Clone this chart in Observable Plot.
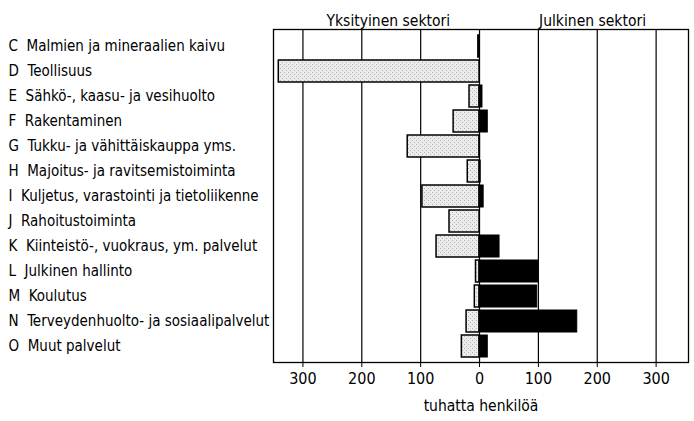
<!DOCTYPE html>
<html>
<head>
<meta charset="utf-8">
<script src="https://cdn.jsdelivr.net/npm/d3@7"></script>
<script src="https://cdn.jsdelivr.net/npm/@observablehq/plot@0.6"></script>
<style>
  html, body { margin: 0; padding: 0; background: #fff; }
  svg { display: block; }
</style>
</head>
<body>
<div id="chart"></div>
<script>
const categories = [
  "C\u00a0 Malmien ja mineraalien kaivu",
  "D\u00a0 Teollisuus",
  "E\u00a0 Sähkö-, kaasu- ja vesihuolto",
  "F\u00a0 Rakentaminen",
  "G\u00a0 Tukku- ja vähittäiskauppa yms.",
  "H\u00a0 Majoitus- ja ravitsemistoiminta",
  "I\u00a0 Kuljetus, varastointi ja tietoliikenne",
  "J\u00a0 Rahoitustoiminta",
  "K\u00a0 Kiinteistö-, vuokraus, ym. palvelut",
  "L\u00a0 Julkinen hallinto",
  "M\u00a0 Koulutus",
  "N\u00a0 Terveydenhuolto- ja sosiaalipalvelut",
  "O\u00a0 Muut palvelut"
];
const yksityinen = [2, 341, 17, 44, 122, 20, 97, 51, 73, 6, 8, 22, 30];
const julkinen   = [0, 0, 5, 14, 1, 2, 7, 0, 34, 100, 98, 166, 14];
const tickValues = [-300, -200, -100, 0, 100, 200, 300];
const headers = ["Yksityinen sektori", "Julkinen sektori"];
const headerX = [-155, 192];
const axisTitle = "tuhatta henkilöä";

const privateRows = categories.map((c, i) => ({cat: c, x1: -yksityinen[i], x2: 0}));
const publicRows = categories.map((c, i) => ({cat: c, x1: 0, x2: julkinen[i]}));
const headerRows = headers.map((h, i) => ({text: h, x: headerX[i]}));

const font = "'Liberation Sans Narrow', 'DejaVu Sans Condensed', 'Roboto', sans-serif";

const chart = Plot.plot({
  width: 694,
  height: 421,
  marginLeft: 273,
  marginRight: 6,
  marginTop: 29,
  marginBottom: 59,
  style: {fontFamily: font, fontSize: "15px", color: "#000", background: "#fff"},
  x: {domain: [-350, 355], ticks: tickValues, tickFormat: d => Math.abs(d)},
  y: {domain: categories, padding: 0.14, axis: null},
  marks: [
    Plot.ruleX(tickValues, {stroke: "#000", strokeWidth: 1.2}),
    Plot.barX(privateRows, {y: "cat", x1: "x1", x2: "x2", fill: "url(#stipple)", stroke: "#000", strokeWidth: 1.5}),
    Plot.barX(publicRows.filter(d => d.x2 > 0), {y: "cat", x1: "x1", x2: "x2", fill: "#000", stroke: "#000", strokeWidth: 1}),
    Plot.frame({stroke: "#000", strokeWidth: 1.3}),
    Plot.axisX({ticks: tickValues, tickFormat: d => Math.abs(d), tickSize: 5, tickPadding: 5, fontSize: 16, label: null, stroke: "#000"}),
    Plot.text(categories, {y: d => d, frameAnchor: "left", dx: -265, textAnchor: "start", fontSize: 15, fill: "#000"}),
    Plot.text(headerRows, {x: "x", text: "text", frameAnchor: "top", dy: -15, fontSize: 15.5, fill: "#000"}),
    Plot.text([axisTitle], {frameAnchor: "bottom", dy: 48, fontSize: 15.5, fill: "#000"})
  ]
});

// stipple pattern for private sector bars
const ns = "http://www.w3.org/2000/svg";
const defs = document.createElementNS(ns, "defs");
const pat = document.createElementNS(ns, "pattern");
pat.setAttribute("id", "stipple");
pat.setAttribute("patternUnits", "userSpaceOnUse");
pat.setAttribute("width", "4");
pat.setAttribute("height", "4");
const bg = document.createElementNS(ns, "rect");
bg.setAttribute("width", "4"); bg.setAttribute("height", "4"); bg.setAttribute("fill", "#ececec");
pat.appendChild(bg);
[[0, 0], [2, 2]].forEach(([x, y]) => {
  const r = document.createElementNS(ns, "rect");
  r.setAttribute("x", x); r.setAttribute("y", y);
  r.setAttribute("width", "1"); r.setAttribute("height", "1");
  r.setAttribute("fill", "#b0b0b0");
  pat.appendChild(r);
});
defs.appendChild(pat);
chart.insertBefore(defs, chart.firstChild);

document.getElementById("chart").appendChild(chart);
</script>
</body>
</html>
